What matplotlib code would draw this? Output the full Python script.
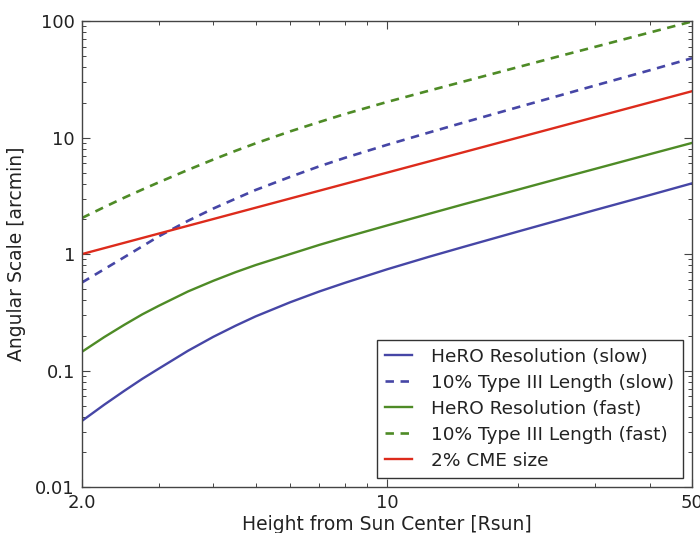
import matplotlib
matplotlib.use("Agg")
import matplotlib.pyplot as plt
from matplotlib.ticker import FixedLocator, FixedFormatter, NullFormatter, LogLocator

# heights from sun center [Rsun]
height = [2, 2.25, 2.5, 2.75, 3, 3.5, 4, 4.5, 5, 6, 7, 8, 10, 12.5, 15, 20, 25, 30, 40, 50]

# angular scales [arcmin]
hero_slow = [0.037, 0.051, 0.067, 0.085, 0.104, 0.148, 0.195, 0.243, 0.292, 0.386,
             0.478, 0.566, 0.74, 0.95, 1.155, 1.565, 1.975, 2.39, 3.21, 4.05]
type3_slow = [0.57, 0.742, 0.94, 1.166, 1.42, 1.93, 2.46, 2.99, 3.55, 4.6,
              5.67, 6.69, 8.66, 11.07, 13.48, 18.27, 23.1, 28.0, 37.8, 48]
hero_fast = [0.145, 0.194, 0.247, 0.304, 0.36, 0.478, 0.59, 0.70, 0.805, 1.0,
             1.2, 1.39, 1.76, 2.22, 2.68, 3.58, 4.49, 5.39, 7.2, 9.0]
type3_fast = [2.04, 2.53, 3.05, 3.58, 4.13, 5.28, 6.48, 7.70, 8.92, 11.3,
              13.6, 15.9, 20.2, 25.3, 30.3, 40.3, 50.3, 60.1, 79.7, 99.2]
cme_size = [1.0, 1.125, 1.25, 1.375, 1.5, 1.75, 2.0, 2.25, 2.5, 3.0,
            3.5, 4.0, 5.0, 6.25, 7.5, 10, 12.5, 15, 20, 25]

x_ticks = [2, 10, 50]
x_ticklabels = ["2.0", "10", "50"]
y_ticks = [0.01, 0.1, 1, 10, 100]
y_ticklabels = ["0.01", "0.1", "1", "10", "100"]

blue = "#4646a6"
green = "#4e8b26"
red = "#dd2b1c"

fig = plt.figure(figsize=(7, 5.33), dpi=100)
ax = fig.add_axes([0.117, 0.086, 0.8716, 0.8745])

ax.plot(height, hero_slow, color=blue, lw=1.7, label="HeRO Resolution (slow)")
ax.plot(height, type3_slow, color=blue, lw=1.9, dashes=(3.2, 2.5), label="10% Type III Length (slow)")
ax.plot(height, hero_fast, color=green, lw=1.7, label="HeRO Resolution (fast)")
ax.plot(height, type3_fast, color=green, lw=1.9, dashes=(3.2, 2.5), label="10% Type III Length (fast)")
ax.plot(height, cme_size, color=red, lw=1.7, label="2% CME size")

ax.set_xscale("log")
ax.set_yscale("log")
ax.set_xlim(2, 50)
ax.set_ylim(0.01, 100)

ax.xaxis.set_major_locator(FixedLocator(x_ticks))
ax.xaxis.set_major_formatter(FixedFormatter(x_ticklabels))
ax.xaxis.set_minor_locator(FixedLocator([3, 4, 5, 6, 7, 8, 9, 20, 30, 40]))
ax.xaxis.set_minor_formatter(NullFormatter())
ax.yaxis.set_major_locator(FixedLocator(y_ticks))
ax.yaxis.set_major_formatter(FixedFormatter(y_ticklabels))
ax.yaxis.set_minor_locator(LogLocator(base=10, subs=range(2, 10)))
ax.yaxis.set_minor_formatter(NullFormatter())

ax.tick_params(which="both", direction="in", top=True, right=True,
               color="#444444", labelsize=13, labelcolor="#222222", pad=5)
ax.tick_params(which="major", length=6, width=0.8)
ax.tick_params(which="minor", length=3, width=0.7)
for s in ax.spines.values():
    s.set_color("#444444")
    s.set_linewidth(1.0)

ax.set_xlabel("Height from Sun Center [Rsun]", fontsize=13.5, color="#222222", labelpad=2)
ax.set_ylabel("Angular Scale [arcmin]", fontsize=13.5, color="#222222", labelpad=7)

leg = ax.legend(loc="lower right", fontsize=13.3, fancybox=False, framealpha=1,
                handlelength=1.45, handletextpad=1.05, labelspacing=0.43,
                borderpad=0.45, borderaxespad=0.5)
leg.get_frame().set_edgecolor("#333333")
leg.get_frame().set_linewidth(1.0)
for t in leg.get_texts():
    t.set_color("#222222")

fig.savefig("out.png", dpi=100)
